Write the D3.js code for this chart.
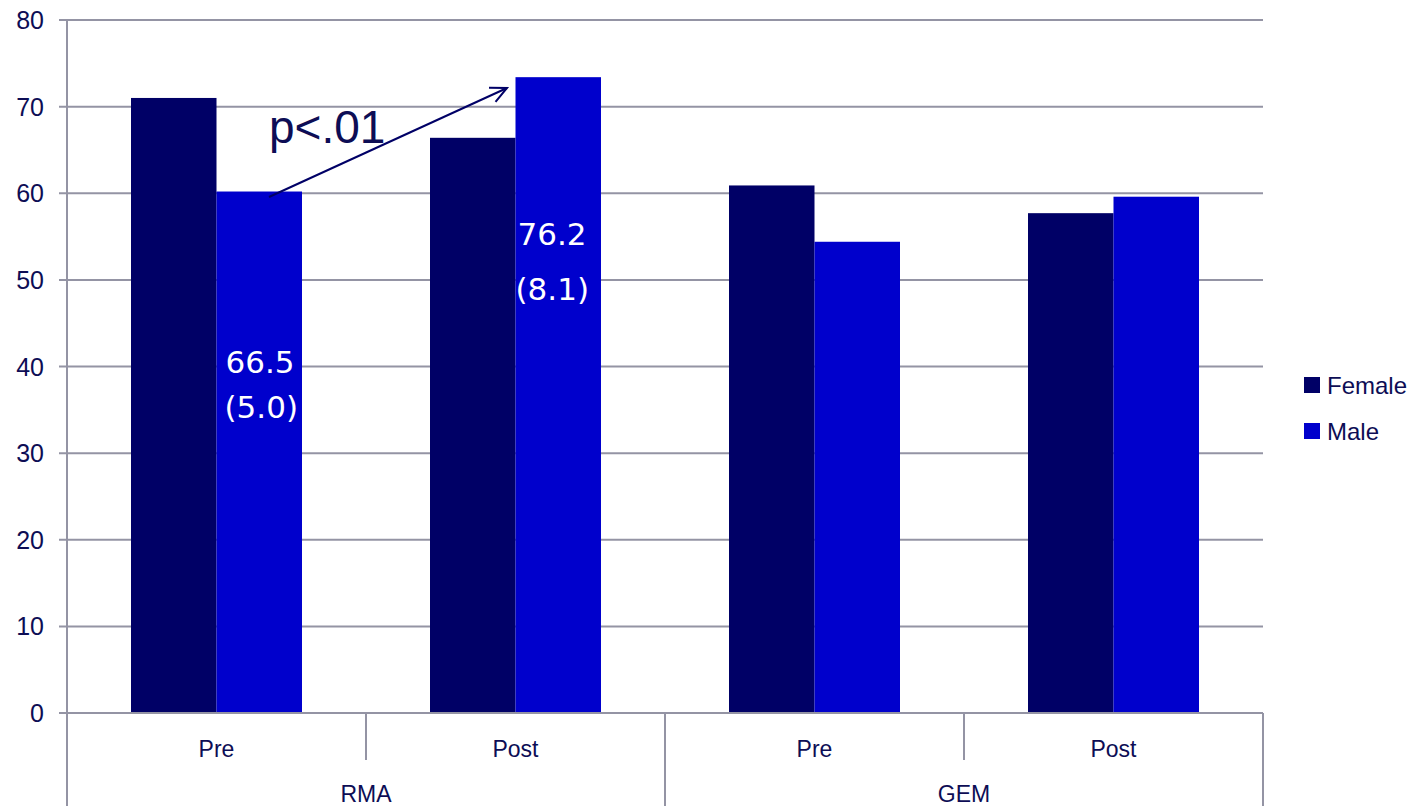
<!DOCTYPE html>
<html><head><meta charset="utf-8">
<script src="https://cdn.jsdelivr.net/npm/d3@7"></script>
<style>body{margin:0;background:#fff;}svg{display:block;font-family:"Liberation Sans",Arial,sans-serif;}</style>
</head><body><svg id="c" width="1412" height="806"></svg>
<script>
const categories = ["Pre","Post","Pre","Post"];
const groups = ["RMA","GEM"];
const series = ["Female","Male"];
const femaleValues = [71.0, 66.4, 60.9, 57.7];
const maleValues = [60.2, 73.4, 54.4, 59.6];
const yTicks = [0,10,20,30,40,50,60,70,80];
const colors = {Female:"#000066", Male:"#0000CC"};

const svg = d3.select("#c");
const L=67, R=1263, T=20, B=713;
const gridColor="#9494a4", textColor="#0d0d55";
const y = d3.scaleLinear().domain([0,80]).range([B,T]);
const x = d3.scaleBand().domain(d3.range(categories.length)).range([L,R]);
const xs = d3.scaleBand().domain(series).range([64, x.bandwidth()-64]);

// gridlines
svg.append("g").selectAll("line").data(yTicks).join("line")
  .attr("x1",L-8).attr("x2",R).attr("y1",d=>y(d)).attr("y2",d=>y(d))
  .attr("stroke",gridColor).attr("stroke-width",2);
// y labels
svg.append("g").selectAll("text").data(yTicks).join("text")
  .attr("x",44).attr("y",d=>y(d)+9).attr("text-anchor","end")
  .attr("font-size",25).attr("fill",textColor).text(d=>d);

// bars
const data = categories.map((c,i)=>({i, Female:femaleValues[i], Male:maleValues[i]}));
const g = svg.append("g");
data.forEach(d=>{
  series.forEach(s=>{
    g.append("rect").attr("x",x(d.i)+xs(s)).attr("width",xs.bandwidth())
     .attr("y",y(d[s])).attr("height",B-y(d[s])).attr("fill",colors[s]);
  });
});

// axes lines
svg.append("line").attr("x1",L).attr("x2",L).attr("y1",T).attr("y2",806).attr("stroke",gridColor).attr("stroke-width",2);
svg.append("line").attr("x1",L).attr("x2",R).attr("y1",B).attr("y2",B).attr("stroke",gridColor).attr("stroke-width",2);
// category separators
[1,3].forEach(i=>svg.append("line").attr("x1",x(i)).attr("x2",x(i)).attr("y1",B).attr("y2",760).attr("stroke",gridColor).attr("stroke-width",2));
[2,4].forEach(i=>{const xx = i<4?x(i):R; svg.append("line").attr("x1",xx).attr("x2",xx).attr("y1",B).attr("y2",806).attr("stroke",gridColor).attr("stroke-width",2);});

// category labels
svg.append("g").selectAll("text").data(categories).join("text")
  .attr("x",(d,i)=>x(i)+x.bandwidth()/2).attr("y",757).attr("text-anchor","middle")
  .attr("font-size",23).attr("fill",textColor).text(d=>d);
svg.append("g").selectAll("text").data(groups).join("text")
  .attr("x",(d,i)=>x(i*2)+x.bandwidth()).attr("y",802).attr("text-anchor","middle")
  .attr("font-size",23).attr("fill",textColor).text(d=>d);

// legend
series.forEach((s,i)=>{
  svg.append("rect").attr("x",1304).attr("y",377+i*46).attr("width",16).attr("height",16).attr("fill",colors[s]);
  svg.append("text").attr("x",1327).attr("y",394+i*46).attr("font-size",24).attr("fill",textColor).text(s);
});

// annotations
const mx0 = x(0)+xs("Male"), mx1 = x(1)+xs("Male");
const lab = (tx,ty,t)=>svg.append("text").attr("x",tx).attr("y",ty).attr("font-family","'DejaVu Sans',sans-serif").attr("font-size",31).attr("fill","#fff").text(t);
lab(mx0+9,373,"66.5");
lab(mx0+8,418,"(5.0)");
lab(mx1+2,245,"76.2");
lab(mx1,300,"(8.1)");

svg.append("text").attr("x",269).attr("y",143).attr("font-size",46).attr("fill",textColor).text("p<.01");
// arrow
const ax0=269, ay0=197, ax1=507, ay1=88;
svg.append("line").attr("x1",ax0).attr("y1",ay0).attr("x2",ax1).attr("y2",ay1).attr("stroke","#000066").attr("stroke-width",2);
const ang = Math.atan2(ay1-ay0, ax1-ax0), hl=18, ha=0.45;
svg.append("path").attr("d",`M${ax1-hl*Math.cos(ang-ha)},${ay1-hl*Math.sin(ang-ha)}L${ax1},${ay1}L${ax1-hl*Math.cos(ang+ha)},${ay1-hl*Math.sin(ang+ha)}`)
  .attr("fill","none").attr("stroke","#000066").attr("stroke-width",2);
</script></body></html>
